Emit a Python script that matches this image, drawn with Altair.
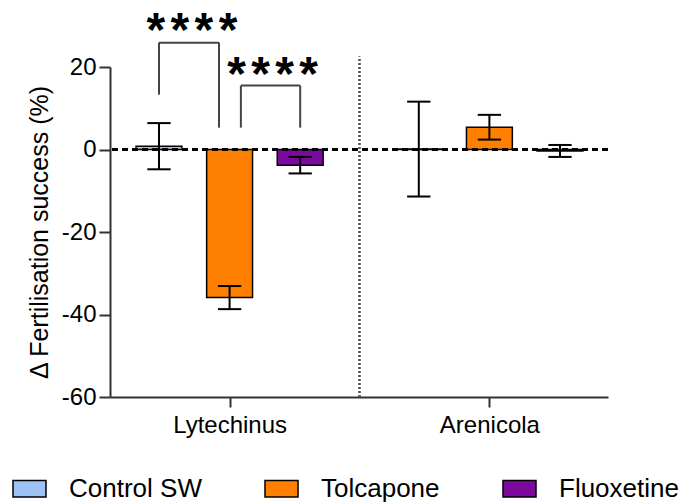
import altair as alt
import pandas as pd

# ---- data ----
treatments = ["Control SW", "Tolcapone", "Fluoxetine"]
colors = ["#9DC3F6", "#FF8000", "#7B0A9C"]
groups = ["Lytechinus", "Arenicola"]
means = {"Lytechinus": [0.8, -35.9, -3.8], "Arenicola": [0.1, 5.4, -0.35]}
sems = {"Lytechinus": [5.6, 2.8, 2.0], "Arenicola": [11.5, 3.0, 1.45]}

# layout positions on the category axis (slot units)
group_centers = [2.0, 5.68]
slot_offsets = [-1, 0, 1]
x_domain = [0.306, 7.36]
divider_x = (group_centers[0] + group_centers[1]) / 2

# significance annotations (data units)
br_x1 = [1.0, 2.16]
br_x2 = [1.85, 3.0]
br_top = [25.9, 15.5]
br_left = [13.3, 5.3]
br_right = [5.3, 5.3]
star_center_x = [1.467, 2.608]
star_base_y = [25.0, 14.4]
n_stars = [4, 4]

BAR_HALF = 0.325
CAP_HALF = 0.165
STAR_PITCH = 0.34

rows = []
for g, gc in zip(groups, group_centers):
    for t, off, m, s in zip(treatments, slot_offsets, means[g], sems[g]):
        rows.append({"group": g, "treatment": t, "pos": gc + off, "mean": m,
                     "lo": m - s, "hi": m + s,
                     "xl": gc + off - BAR_HALF, "xr": gc + off + BAR_HALF,
                     "cl": gc + off - CAP_HALF, "cr": gc + off + CAP_HALF})
df = pd.DataFrame(rows)

segs = []
for a, b, top, l, r in zip(br_x1, br_x2, br_top, br_left, br_right):
    segs.append({"x": a, "x2": b, "y": top, "y2": top})
    segs.append({"x": a, "x2": a, "y": l, "y2": top})
    segs.append({"x": b, "x2": b, "y": r, "y2": top})
seg_df = pd.DataFrame(segs)

stars_rows = []
for cx, by, n in zip(star_center_x, star_base_y, n_stars):
    for i in range(n):
        stars_rows.append({"x": cx + (i - (n - 1) / 2) * STAR_PITCH, "y": by, "t": "*"})
star_df = pd.DataFrame(stars_rows)

FONT = "Liberation Sans"
AX = "#333333"

xscale = alt.Scale(domain=x_domain, nice=False, zero=False)
yscale = alt.Scale(domain=[-60, 20], nice=False)
label_expr = " : ".join(
    [f"abs(datum.value - {c}) < 0.01 ? '{g}'" for g, c in zip(groups, group_centers)]
) + " : ''"
xaxis = alt.Axis(values=group_centers, labelExpr=label_expr, grid=False, title=None,
                 domainColor=AX, domainWidth=2, tickColor=AX, tickWidth=2, tickSize=10,
                 labelFont=FONT, labelFontSize=24, labelColor="black", labelPadding=6)
yaxis = alt.Axis(values=[-60, -40, -20, 0, 20], grid=False,
                 labelExpr="toString(datum.value)",
                 title="Δ Fertilisation success (%)",
                 domainColor=AX, domainWidth=2, tickColor=AX, tickWidth=2, tickSize=11,
                 labelFont=FONT, labelFontSize=24, labelColor="black", labelPadding=3,
                 titleFont=FONT, titleFontSize=25, titleFontWeight="normal",
                 titleColor="black", titlePadding=9)


def X(f):
    return alt.X(f, type="quantitative", scale=xscale, axis=xaxis)


def Y(f):
    return alt.Y(f, type="quantitative", scale=yscale, axis=yaxis)


base = alt.Chart(df)

bars = base.mark_bar(stroke="black", strokeWidth=1.5).encode(
    x=X("xl"), x2="xr", y=Y("mean"), y2=alt.datum(0),
    fill=alt.Fill("treatment:N", scale=alt.Scale(domain=treatments, range=colors),
                  legend=alt.Legend(orient="none", legendX=-98, legendY=404,
                                    direction="horizontal", title=None, padding=0,
                                    symbolType="M-1,-0.5H1V0.5H-1Z", symbolSize=1089,
                                    symbolStrokeColor="black", symbolStrokeWidth=1.5,
                                    labelFont=FONT, labelFontSize=26, labelColor="black",
                                    labelOffset=22, columnPadding=60)),
)

zero = alt.Chart(df).mark_rule(color="black", strokeWidth=2, strokeDash=[6, 4]).encode(
    y=alt.datum(0, scale=yscale)
)

divider = alt.Chart(df).mark_rule(color="#555555", strokeWidth=1.5, strokeDash=[2, 2]).encode(
    x=alt.datum(divider_x, scale=xscale), y=alt.datum(-60), y2=alt.datum(22.5)
)

err = base.mark_rule(color="black", strokeWidth=2).encode(x=X("pos"), y=Y("lo"), y2="hi")
cap_hi = base.mark_rule(color="black", strokeWidth=2).encode(x=X("cl"), x2="cr", y=Y("hi"))
cap_lo = base.mark_rule(color="black", strokeWidth=2).encode(x=X("cl"), x2="cr", y=Y("lo"))

brackets = alt.Chart(seg_df).mark_rule(color="#444444", strokeWidth=2).encode(
    x=X("x"), x2="x2", y=Y("y"), y2="y2"
)

stars = alt.Chart(star_df).mark_text(font=FONT, fontSize=48, fontWeight="bold",
                                     color="black", align="center",
                                     baseline="alphabetic").encode(
    x=X("x"), y=Y("y"), text="t:N"
)

chart = alt.layer(bars, zero, divider, err, cap_hi, cap_lo, brackets, stars).properties(
    width=498, height=330,
    autosize=alt.AutoSizeParams(type="none"),
    padding={"left": 110, "top": 67, "right": 73, "bottom": 107},
).configure_view(stroke=None)

chart.save("out.html", embed_options={"renderer": "svg", "actions": False})
